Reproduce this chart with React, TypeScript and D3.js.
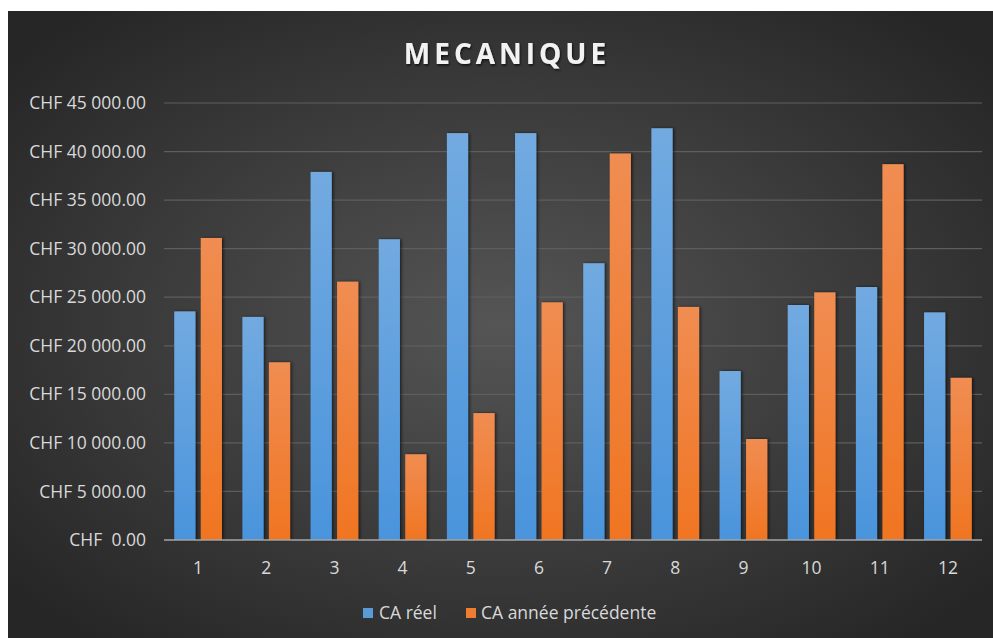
import * as d3 from 'd3';

const months = ['1', '2', '3', '4', '5', '6', '7', '8', '9', '10', '11', '12'];
const caReel = [23540, 22970, 37900, 30970, 41900, 41900, 28500, 42400, 17400, 24200, 26050, 23440];
const caPrec = [31100, 18300, 26600, 8830, 13070, 24470, 39800, 24000, 10400, 25500, 38700, 16700];
const yTicks = [0, 5000, 10000, 15000, 20000, 25000, 30000, 35000, 40000, 45000];
const seriesNames = ['CA réel', 'CA année précédente'];

const W = 993;
const H = 638;
const margin = { top: 103, right: 11, bottom: 98, left: 164 };

const fmt = (v: number) => {
    if (v === 0) return 'CHF\u00a0\u00a00.00';
    const s = Math.round(v).toString().replace(/\B(?=(\d{3})+(?!\d))/g, ' ');
    return `CHF ${s}.00`;
};

export default function App() {
    const x = d3
        .scaleBand()
        .domain(months)
        .range([margin.left, W - margin.right])
        .paddingInner(0.3)
        .paddingOuter(0.15);
    const x1 = d3.scaleBand().domain(['a', 'b']).range([0, x.bandwidth()]).paddingInner(0.2);
    const y = d3.scaleLinear().domain([0, 45000]).range([H - margin.bottom, margin.top]);
    const font = "'Open Sans', 'Noto Sans', sans-serif";
    const fills = ['url(#gBlue)', 'url(#gOrange)'];
    const series = [caReel, caPrec];
    const fs = 17.5;

    return (
        <svg width={W} height={H} style={{ position: 'absolute', left: 0, top: 0 }} fontFamily={font}>
            <defs>
                <radialGradient id="bg" cx="0.5" cy="0.5" r="0.65">
                    <stop offset="0" stopColor="#555555" />
                    <stop offset="1" stopColor="#262626" />
                </radialGradient>
                <linearGradient id="gBlue" x1="0" y1="0" x2="0" y2="1">
                    <stop offset="0" stopColor="#72aae0" />
                    <stop offset="1" stopColor="#4a94dc" />
                </linearGradient>
                <linearGradient id="gOrange" x1="0" y1="0" x2="0" y2="1">
                    <stop offset="0" stopColor="#f08d52" />
                    <stop offset="1" stopColor="#f07522" />
                </linearGradient>
                <filter id="shadow" x="-30%" y="-10%" width="160%" height="120%">
                    <feDropShadow dx="1.5" dy="0" stdDeviation="1.5" floodColor="#000" floodOpacity="0.6" />
                </filter>
                <filter id="tshadow" x="-10%" y="-30%" width="120%" height="160%">
                    <feDropShadow dx="1" dy="1.5" stdDeviation="1" floodColor="#000" floodOpacity="0.7" />
                </filter>
            </defs>
            <rect x={8} y={11} width={W - 8} height={H - 11} fill="url(#bg)" />

            <text x={507} y={64} textAnchor="middle" fill="#f2f2f2" fontSize={28} fontWeight="bold" letterSpacing={4} filter="url(#tshadow)">
                MECANIQUE
            </text>

            {yTicks.map(t => (
                <g key={t}>
                    {t > 0 && (
                        <line x1={margin.left} x2={W - margin.right} y1={y(t)} y2={y(t)} stroke="#5e5e5e" strokeWidth={1.2} />
                    )}
                    <text x={146} y={y(t)} dy="0.35em" textAnchor="end" fill="#d9d9d9" fontSize={fs}>
                        {fmt(t)}
                    </text>
                </g>
            ))}

            {months.map((m, i) => (
                <g key={m} transform={`translate(${x(m)},0)`}>
                    {series.map((s, j) => (
                        <rect
                            key={j}
                            x={x1(j === 0 ? 'a' : 'b')}
                            y={y(s[i])}
                            width={x1.bandwidth()}
                            height={y(0) - y(s[i])}
                            fill={fills[j]}
                            filter="url(#shadow)"
                        />
                    ))}
                </g>
            ))}

            <line x1={margin.left} x2={W - margin.right} y1={y(0)} y2={y(0)} stroke="#a6a6a6" strokeWidth={1.3} />

            {months.map(m => (
                <text key={m} x={(x(m) ?? 0) + x.bandwidth() / 2} y={568} dy="0.35em" textAnchor="middle" fill="#d9d9d9" fontSize={fs}>
                    {m}
                </text>
            ))}

            <g fontSize={fs} fill="#d9d9d9">
                <rect x={363} y={608} width={10} height={10} fill="#5b9bd5" />
                <text x={379} y={613} dy="0.35em">{seriesNames[0]}</text>
                <rect x={466} y={608} width={10} height={10} fill="#ed7d31" />
                <text x={481} y={613} dy="0.35em">{seriesNames[1]}</text>
            </g>
        </svg>
    );
}
